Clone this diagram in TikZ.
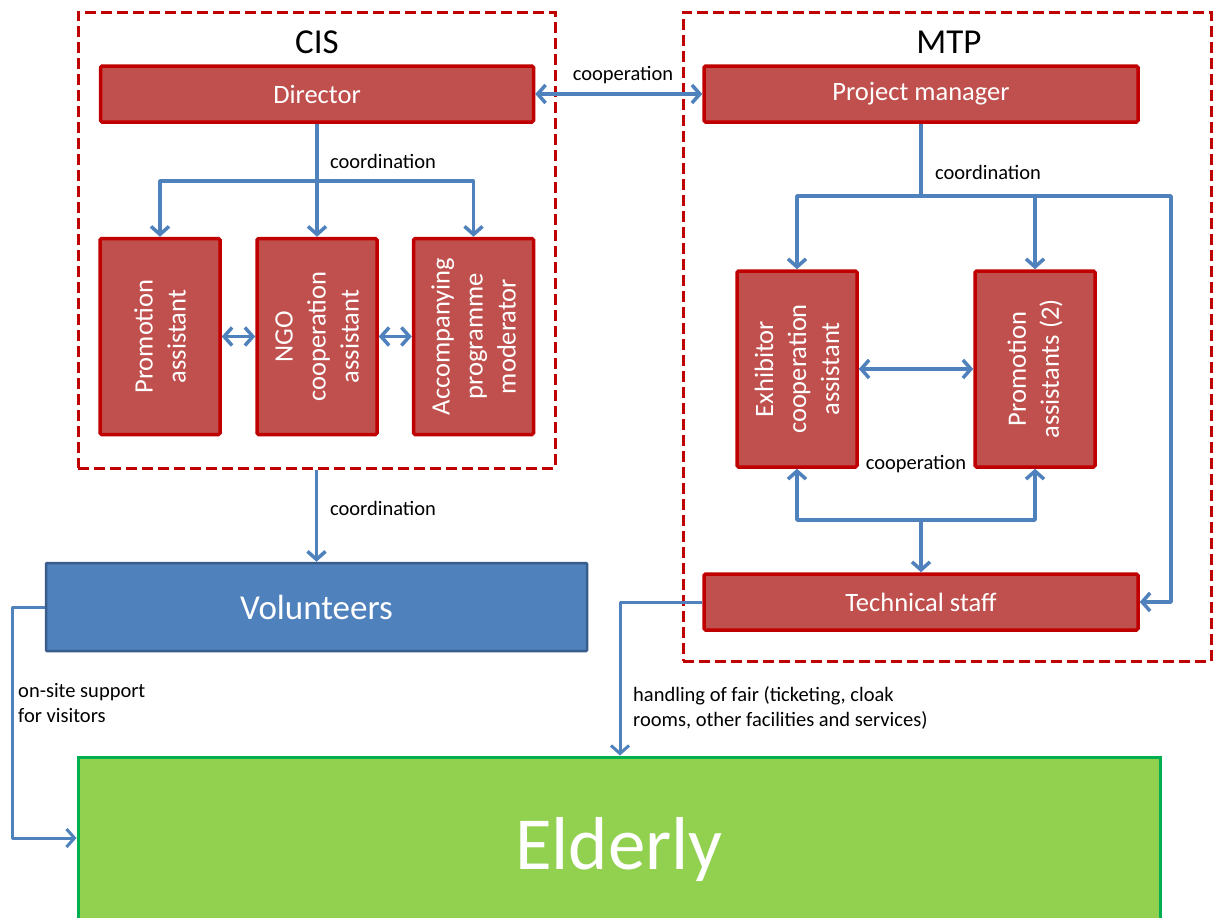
\documentclass[tikz,border=0pt]{standalone}
\usepackage{fontspec}
\setmainfont{Carlito}
\usetikzlibrary{arrows.meta}
\definecolor{boxred}{HTML}{C0504D}
\definecolor{edgered}{HTML}{C00000}
\definecolor{linkblue}{HTML}{4F81BD}
\definecolor{voledge}{HTML}{385D8A}
\definecolor{eldgreen}{HTML}{92D050}
\definecolor{eldedge}{HTML}{00B050}

\tikzset{
  role/.style={draw=edgered, fill=boxred, line width=3.5pt, rounded corners=1.5pt,
    text=white, inner sep=0pt, font=\fontsize{26.5}{33}\selectfont},
  upright/.style={role, minimum width=120pt, minimum height=196pt},
  wide/.style={role, minimum width=434pt, minimum height=56pt},
  group/.style={draw=edgered, line width=3pt, dash pattern=on 11pt off 5pt,
    inner sep=0pt},
  grouptitle/.style={font=\fontsize{35}{42}\selectfont, inner sep=0pt},
  link/.style={draw=linkblue, line width=3.5pt, line join=round,
    >={Straight Barb[length=8pt,width=18pt]}},
  note/.style={font=\fontsize{20.5}{25}\selectfont, inner sep=0pt},
}
\newcommand{\vtext}[1]{\rotatebox{90}{\parbox{190pt}{\centering #1}}}

\begin{document}
\begin{tikzpicture}[x=1pt,y=-1pt]
  \fill[white] (0,0) rectangle (1213,918);
  \useasboundingbox (0,0) rectangle (1213,918);
  \clip (0,0) rectangle (1213,918);

  % organisation frames
  \node[group, minimum width=477pt, minimum height=456pt] (cis) at (316.5,240) {};
  \node[group, minimum width=528pt, minimum height=649pt] (mtp) at (947,336.5) {};
  \node[grouptitle] (cistitle) at (317,42) {CIS};
  \node[grouptitle] (mtptitle) at (949,42) {MTP};

  % CIS staff
  \node[wide, minimum width=433pt] (dir) at (317,94) {Director};
  \node[upright] (pa)  at (160,336.5) {\vtext{Promotion\\assistant}};
  \node[upright] (ngo) at (317,336.5) {\vtext{NGO\\cooperation\\assistant}};
  \node[upright] (mod) at (473.5,336.5) {\vtext{Accompanying\\programme\\moderator}};

  % MTP staff
  \node[wide] (pm)   at (921,94)  {Project manager};
  \node[upright] (exh) at (797,369)  {\vtext{Exhibitor\\cooperation\\assistant}};
  \node[upright] (pro) at (1035,369) {\vtext{Promotion\\assistants (2)}};
  \node[wide] (tech) at (921,602) {Technical staff};

  % volunteers and visitors
  \node[draw=voledge, fill=linkblue, line width=2.5pt, rounded corners=1pt,
        minimum width=541pt, minimum height=88pt, inner sep=0pt, text=white,
        font=\fontsize{35}{42}\selectfont] (vol) at (316.5,607) {Volunteers};
  \node[draw=eldedge, fill=eldgreen, line width=3pt,
        minimum width=1082pt, minimum height=184pt, inner sep=0pt, text=white,
        font=\fontsize{75}{90}\selectfont] (eld) at (619,849) {Elderly};

  % CIS links
  \coordinate (dsplit) at (317,181);
  \draw[link] (dir.south) -- (dsplit);
  \draw[link,->] (dsplit) -| (pa.north);
  \draw[link,->] (dsplit) -| (mod.north);
  \draw[link,->] (dsplit) -- (ngo.north);
  \node[note] (lcoord1) at (383,161) {coordination};
  \draw[link,<->] (pa.east) -- (ngo.west);
  \draw[link,<->] (ngo.east) -- (mod.west);

  % between organisations
  \draw[link,<->] (dir.east) -- (pm.west);
  \node[note] (lcoop1) at (623,75) {cooperation};

  % MTP links
  \coordinate (msplit) at (921,196);
  \coordinate (mright) at (1171,196);
  \draw[link] (pm.south) -- (msplit);
  \draw[link,->] (msplit) -| (exh.north);
  \draw[link,->] (msplit) -| (pro.north);
  \draw[link,->] (msplit) -- (mright) |- (tech.east);
  \node[note] (lcoord2) at (988,172) {coordination};
  \draw[link,<->] (exh.east) -- (pro.west);
  \coordinate (tjoin) at (921,520);
  \draw[link,->] (tjoin) -| (exh.south);
  \draw[link,->] (tjoin) -| (pro.south);
  \draw[link,->] (tjoin) -- (tech.north);
  \node[note] (lcoop2) at (916,464) {cooperation};

  % down to volunteers and visitors
  \draw[link,->] (cis.south) -- (vol.north);
  \node[note] (lcoord3) at (383,508) {coordination};

  \coordinate (vturn) at (12,838);
  \draw[link,line width=3pt,->] (vol.west) -| (vturn) -- (vturn -| eld.west);
  \node[note, anchor=west, align=left] (lsupport) at (18,703)
    {on-site support\\for visitors};

  \coordinate (tturn) at (620,602);
  \draw[link,line width=3pt,->] (tech.west) -- (tturn) -- (tturn |- eld.north);
  \node[note, anchor=west, align=left] (lfair) at (633,708)
    {handling of fair (ticketing, cloak\\rooms, other facilities and services)};
\end{tikzpicture}
\end{document}
